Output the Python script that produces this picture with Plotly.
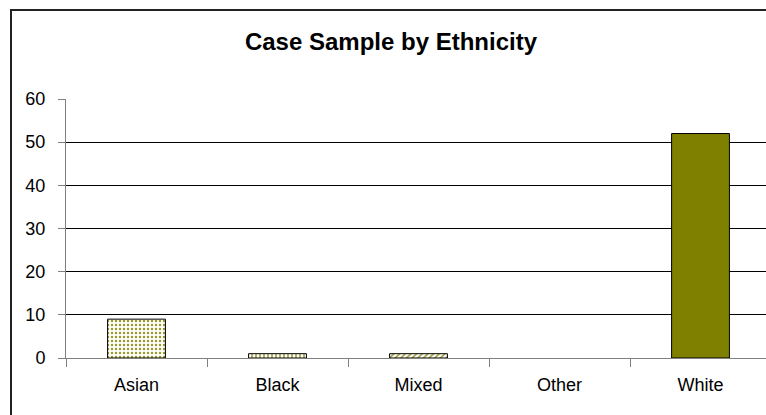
import plotly.graph_objects as go

categories = ["Asian", "Black", "Mixed", "Other", "White"]
values = [9, 1, 1, 0, 52]
y_ticks = [0, 10, 20, 30, 40, 50, 60]

pattern_shapes = [".", "|", "/", "", ""]
pattern_bg = ["#fbfbea", "#e8e8b0", "#f0f0d0", "#808000", "#808000"]
colors = ["#9a9a30", "#808000", "#808000", "#808000", "#808000"]
outline_w = [1, 1, 1, 0, 1]

fig = go.Figure()
fig.add_trace(go.Bar(
    x=categories,
    y=values,
    width=0.41,
    marker=dict(
        color=colors,
        line=dict(color="#000000", width=outline_w),
        pattern=dict(
            shape=pattern_shapes,
            fgcolor=colors,
            bgcolor=pattern_bg,
            size=4,
            solidity=0.3,
            fillmode="replace",
        ),
    ),
    hoverinfo="x+y",
))

W, H = 766, 415
L, R, T, B = 66, 0, 99, 57
pw, ph = W - L - R, H - T - B

fig.update_layout(
    width=W, height=H,
    margin=dict(l=L, r=R, t=T, b=B, pad=0),
    paper_bgcolor="white",
    plot_bgcolor="white",
    showlegend=False,
    font=dict(family="Liberation Sans, Arial", size=18, color="#000000"),
    title=dict(
        text="<b>Case Sample by Ethnicity</b>",
        x=391 / W, xanchor="center",
        y=1 - 42 / H, yanchor="middle",
        font=dict(size=24, family="Liberation Sans, Arial", color="#000000"),
    ),
)

fig.update_xaxes(
    range=[-0.5, 4.5 - 5 / 141],
    showgrid=False,
    showline=True, linecolor="#808080", linewidth=1,
    ticks="outside", tickson="boundaries", ticklen=8, tickcolor="#808080",
    tickfont=dict(size=18),
    ticklabelstandoff=10,
    zeroline=False,
)
fig.update_yaxes(
    range=[0, 60],
    tickvals=y_ticks,
    showgrid=True, gridcolor="#000000", gridwidth=1,
    showline=True, linecolor="#808080", linewidth=1,
    ticks="outside", ticklen=7, tickcolor="#808080",
    tickfont=dict(size=18),
    ticklabelstandoff=9,
    zeroline=False,
)

# outer chart border (partly cropped in the reference)
fig.add_shape(
    type="rect", xref="paper", yref="paper",
    x0=(11 - L) / pw, x1=1.2,
    y0=-0.5, y1=1 + (T - 10) / ph,
    line=dict(color="#222222", width=2),
    fillcolor="rgba(0,0,0,0)",
    layer="above",
)

fig.write_html(
    "out.html",
    config={"displayModeBar": False},
    post_script="document.body.style.margin='0';document.body.style.overflow='hidden';",
)
